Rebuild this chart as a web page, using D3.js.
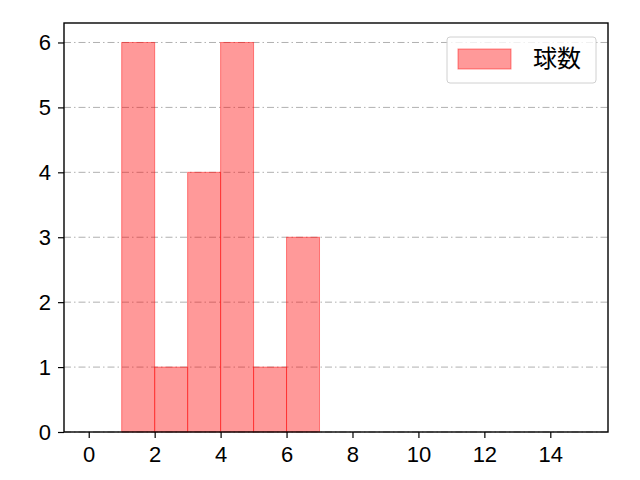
<!DOCTYPE html>
<html>
<head>
<meta charset="utf-8">
<script src="https://cdn.jsdelivr.net/npm/d3@7"></script>
<style>
  body { margin: 0; background: #fff; }
  text { font-family: "Noto Sans CJK JP", "Noto Sans", sans-serif; }
</style>
</head>
<body>
<div id="app"></div>
<script>
const binStarts = [1, 2, 3, 4, 5, 6];
const counts = [6, 1, 4, 6, 1, 3];
const xTicks = [0, 2, 4, 6, 8, 10, 12, 14];
const yTicks = [0, 1, 2, 3, 4, 5, 6];
const legendLabel = "球数";

const width = 640;
const height = 480;
const plotLeft = 64, plotRight = 608, plotTop = 23, plotBottom = 432;

const svg = d3
  .create("svg")
  .attr("width", width)
  .attr("height", height);

const x = d3.scaleLinear().domain([-0.75, 15.75]).range([plotLeft, plotRight]);
const y = d3.scaleLinear().domain([0, 6.3]).range([plotBottom, plotTop]);

// grid
svg
  .append("g")
  .selectAll("line")
  .data(yTicks)
  .join("line")
  .attr("x1", plotLeft)
  .attr("x2", plotRight)
  .attr("y1", (d) => y(d))
  .attr("y2", (d) => y(d))
  .attr("stroke", "#b0b0b0")
  .attr("stroke-width", 1)
  .attr("stroke-dasharray", "7,3,1.5,3");

// bars
svg
  .append("g")
  .selectAll("rect")
  .data(binStarts)
  .join("rect")
  .attr("x", (d) => x(d))
  .attr("y", (d, i) => y(counts[i]))
  .attr("width", (d) => x(d + 1) - x(d))
  .attr("height", (d, i) => y(0) - y(counts[i]))
  .attr("fill", "rgba(255,0,0,0.4)")
  .attr("stroke", "rgba(255,0,0,0.45)")
  .attr("stroke-width", 1);

// axes
const xAxis = svg
  .append("g")
  .attr("transform", `translate(0,${plotBottom})`)
  .call(d3.axisBottom(x).tickValues(xTicks).tickFormat(d3.format("d")).tickSize(6).tickPadding(8));
const yAxis = svg
  .append("g")
  .attr("transform", `translate(${plotLeft},0)`)
  .call(d3.axisLeft(y).tickValues(yTicks).tickFormat(d3.format("d")).tickSize(6).tickPadding(7));

[xAxis, yAxis].forEach((g) => {
  g.select(".domain").remove();
  g.selectAll("line").attr("stroke", "#000").attr("stroke-width", 1.2);
  g.selectAll("text")
    .attr("fill", "#000")
    .style("font-size", "22px")
    .style("font-family", '"Liberation Sans", Arial, sans-serif');
});

// frame
svg
  .append("rect")
  .attr("x", plotLeft)
  .attr("y", plotTop)
  .attr("width", plotRight - plotLeft)
  .attr("height", plotBottom - plotTop)
  .attr("fill", "none")
  .attr("stroke", "#000")
  .attr("stroke-width", 1.4);

// legend
const lg = svg.append("g").attr("transform", "translate(447,37)");
lg.append("rect")
  .attr("width", 149)
  .attr("height", 46)
  .attr("rx", 3)
  .attr("fill", "rgba(255,255,255,0.8)")
  .attr("stroke", "#d0d0d0");
lg.append("rect")
  .attr("x", 11)
  .attr("y", 12)
  .attr("width", 53)
  .attr("height", 20)
  .attr("fill", "rgba(255,0,0,0.4)")
  .attr("stroke", "rgba(255,0,0,0.45)");
lg.append("text")
  .attr("x", 86)
  .attr("y", 23)
  .attr("dominant-baseline", "middle")
  .style("font-size", "24px")
  .attr("fill", "#000")
  .text(legendLabel);

document.getElementById("app").append(svg.node());
</script>
</body>
</html>
